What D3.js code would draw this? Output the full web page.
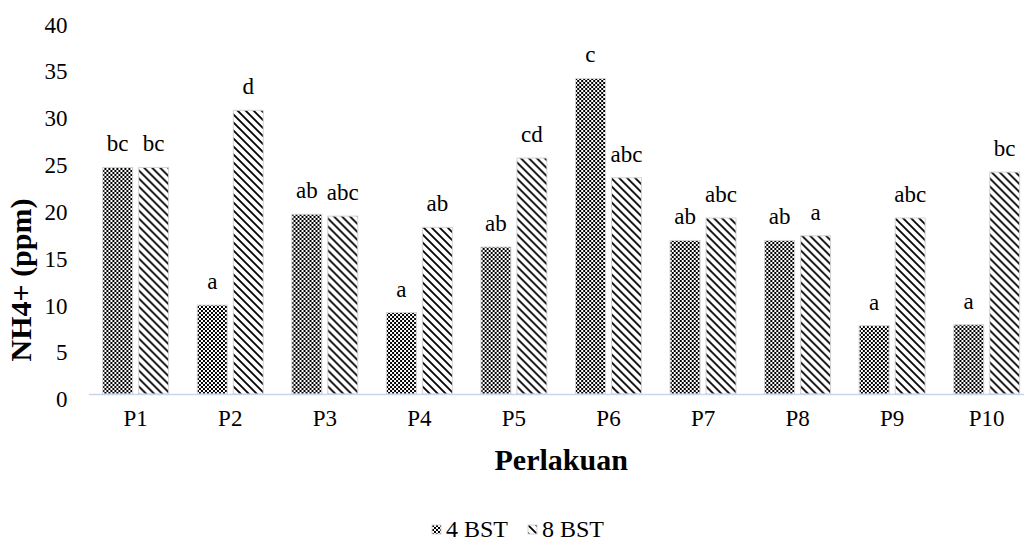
<!DOCTYPE html>
<html>
<head>
<meta charset="utf-8">
<script src="https://cdn.jsdelivr.net/npm/d3@7"></script>
<style>
  body { margin: 0; background: #fff; }
  svg text { font-family: "Liberation Serif", "Times New Roman", serif; fill: #000; }
</style>
</head>
<body>
<div id="chart"></div>
<script>
// data
const categories = ["P1", "P2", "P3", "P4", "P5", "P6", "P7", "P8", "P9", "P10"];
const seriesNames = ["4 BST", "8 BST"];
const bst4 = [24.2, 9.5, 19.2, 8.7, 15.7, 33.7, 16.4, 16.4, 7.3, 7.4];
const bst8 = [24.2, 30.3, 19.0, 17.8, 25.2, 23.1, 18.8, 16.9, 18.8, 23.7];
const letters4 = ["bc", "a", "ab", "a", "ab", "c", "ab", "ab", "a", "a"];
const letters8 = ["bc", "d", "abc", "ab", "cd", "abc", "abc", "a", "abc", "bc"];
const yTicks = [0, 5, 10, 15, 20, 25, 30, 35, 40];

const W = 1024, H = 541;
const plotLeft = 88.4, plotRight = 1034, plotTop = 19.5, plotBase = 394;
const serif = "'Liberation Serif', 'Times New Roman', serif";

const svg = d3.select("#chart").append("svg")
    .attr("width", W)
    .attr("height", H)
    .attr("font-family", serif);

// fill patterns
const defs = svg.append("defs");
const checker = defs.append("pattern")
    .attr("id", "checker")
    .attr("patternUnits", "userSpaceOnUse")
    .attr("width", 4).attr("height", 4);
checker.append("rect").attr("width", 4).attr("height", 4).attr("fill", "#fff");
checker.append("rect").attr("width", 2).attr("height", 2).attr("fill", "#000");
checker.append("rect").attr("x", 2).attr("y", 2).attr("width", 2).attr("height", 2).attr("fill", "#000");

const diag = defs.append("pattern")
    .attr("id", "diag")
    .attr("patternUnits", "userSpaceOnUse")
    .attr("width", 8).attr("height", 8);
diag.append("rect").attr("width", 8).attr("height", 8).attr("fill", "#fff");
diag.append("path")
    .attr("d", "M-1,-1 L9,9 M-1,7 L1,9 M7,-1 L9,1")
    .attr("stroke", "#000")
    .attr("stroke-width", 1.8);

const fills = ["url(#checker)", "url(#diag)"];

// scales
const x0 = d3.scaleBand().domain(categories).range([plotLeft, plotRight]);
const x1 = d3.scaleBand().domain(seriesNames)
    .range([14.3, x0.bandwidth() - 14.3])
    .paddingInner(0.1667);
const y = d3.scaleLinear().domain([0, 40]).range([plotBase, plotTop]);

const rows = categories.map((c, i) => ({
    cat: c,
    vals: [
        {s: seriesNames[0], v: bst4[i], lab: letters4[i], k: 0},
        {s: seriesNames[1], v: bst8[i], lab: letters8[i], k: 1}
    ]
}));

// y axis labels (no line, no ticks)
const yAxis = svg.append("g")
    .attr("transform", `translate(${plotLeft},0)`)
    .call(d3.axisLeft(y).tickValues(yTicks).tickSize(0).tickPadding(21));
yAxis.attr("font-family", serif);
yAxis.select(".domain").remove();
yAxis.selectAll("text")
    .attr("dy", "0.55em")
    .style("font-size", "23px")
    .style("font-family", serif);

// bars
const groups = svg.selectAll(".grp")
    .data(rows)
    .enter().append("g")
    .attr("class", "grp")
    .attr("transform", d => `translate(${x0(d.cat)},0)`);

groups.selectAll("rect")
    .data(d => d.vals)
    .enter().append("rect")
    .attr("x", d => x1(d.s))
    .attr("y", d => y(d.v))
    .attr("width", x1.bandwidth())
    .attr("height", d => y(0) - y(d.v))
    .attr("fill", d => fills[d.k])
    .attr("stroke", "#d4d4d4")
    .attr("stroke-width", 1);

groups.selectAll(".lab")
    .data(d => d.vals)
    .enter().append("text")
    .attr("class", "lab")
    .attr("x", d => x1(d.s) + x1.bandwidth() / 2)
    .attr("y", d => y(d.v) - 16)
    .attr("text-anchor", "middle")
    .style("font-size", "23px")
    .style("font-family", serif)
    .text(d => d.lab);

// x axis
const xAxis = svg.append("g")
    .attr("transform", `translate(0,${plotBase})`)
    .call(d3.axisBottom(x0).tickSize(0).tickPadding(11));
xAxis.attr("font-family", serif);
xAxis.select(".domain").attr("stroke", "#c9d5ea").attr("stroke-width", 1.5);
xAxis.selectAll("text")
    .attr("dy", "0.9em")
    .style("font-size", "23px")
    .style("font-family", serif);

// axis titles
svg.append("text")
    .attr("x", (plotLeft + plotRight) / 2)
    .attr("y", 470)
    .attr("text-anchor", "middle")
    .style("font-size", "30px")
    .style("font-weight", "bold")
    .style("font-family", serif)
    .text("Perlakuan");

svg.append("text")
    .attr("transform", "translate(31,280) rotate(-90)")
    .attr("text-anchor", "middle")
    .style("font-size", "30px")
    .style("font-weight", "bold")
    .style("font-family", serif)
    .text("NH4+ (ppm)");

// legend
const legendX = [432, 528];
const legend = svg.selectAll(".leg")
    .data(seriesNames)
    .enter().append("g")
    .attr("class", "leg")
    .attr("transform", (d, i) => `translate(${legendX[i]},525)`);
legend.append("rect")
    .attr("width", 9).attr("height", 9)
    .attr("fill", (d, i) => fills[i])
    .attr("stroke", "#d4d4d4");
legend.append("text")
    .attr("x", 14)
    .attr("y", 12)
    .style("font-size", "24px")
    .style("font-family", serif)
    .text(d => d);
</script>
</body>
</html>
